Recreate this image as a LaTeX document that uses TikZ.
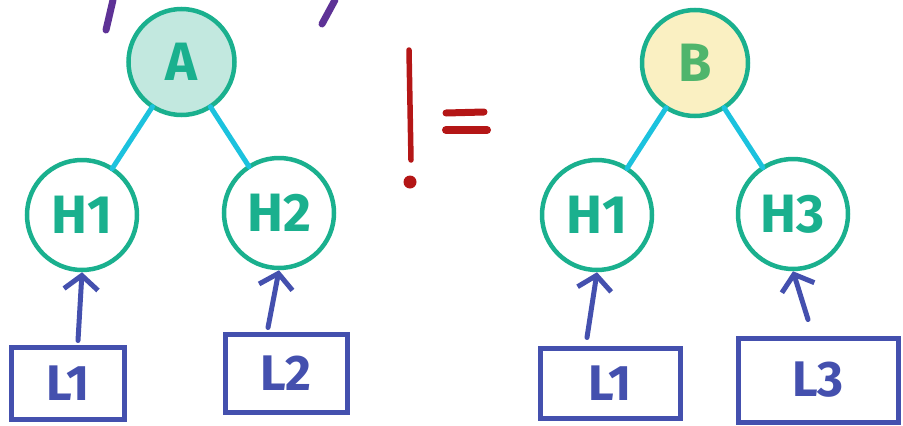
\documentclass[tikz,border=0pt]{standalone}
\usepackage{fontspec}
\setmainfont{Fira Sans}
\usetikzlibrary{arrows.meta}
\definecolor{teal}{HTML}{1AB08E}
\definecolor{tealfill}{HTML}{C2E8DF}
\definecolor{bgreen}{HTML}{4FB56C}
\definecolor{yellowfill}{HTML}{FAF0C2}
\definecolor{cyanline}{HTML}{1CC2DE}
\definecolor{navy}{HTML}{4450AE}
\definecolor{redink}{HTML}{B41616}
\definecolor{purpleink}{HTML}{5E3296}
\tikzset{
  hnode/.style={circle, draw=teal, line width=4.5pt, minimum size=110pt, inner sep=0pt,
    text=teal, font=\fontsize{54}{58}\selectfont\bfseries},
  rootA/.style={hnode, fill=tealfill, minimum size=106pt},
  rootB/.style={hnode, draw=teal, fill=yellowfill, text=bgreen, minimum size=106pt},
  lbox/.style={rectangle, draw=navy, line width=5pt, text=navy, inner sep=0pt,
    font=\fontsize{50}{54}\selectfont\bfseries},
  tree/.style={cyanline, line width=5pt, line cap=round, shorten <=-2pt, shorten >=-2pt},
  up/.style={navy, line width=5pt, line cap=round,
    -{Straight Barb[length=14pt,width=34pt,line width=5pt]}},
  redstroke/.style={redink, line width=5.5pt, line cap=round},
  purplestroke/.style={purpleink, line width=7pt, line cap=round}
}
\begin{document}
\begin{tikzpicture}[x=1pt,y=-1pt]
\useasboundingbox (0,0) rectangle (903,426);
% roots
\node[rootA] (A) at (181.5,62) {A};
\node[rootB] (B) at (695,63) {B};
% hidden nodes
\node[hnode] (H1a) at (82,215) {H1};
\node[hnode] (H2) at (279,213) {H2};
\node[hnode] (H1b) at (597,215) {H1};
\node[hnode] (H3) at (793,214) {H3};
% label boxes
\node[lbox, minimum width=113pt, minimum height=72pt] (L1a) at (68,383) {L1};
\node[lbox, minimum width=122pt, minimum height=78pt] (L2) at (286,373) {L2};
\node[lbox, minimum width=140pt, minimum height=70pt] (L1b) at (610,383) {L1};
\node[lbox, minimum width=160pt, minimum height=84pt] (L3) at (818,380) {L3};
% tree edges
\draw[tree] (A) -- (H1a);
\draw[tree] (A) -- (H2);
\draw[tree] (B) -- (H1b);
\draw[tree] (B) -- (H3);
% arrows
\draw[up] (L1a.north) ++(10,-4) coordinate (s1) (s1) -- (H1a.south);
\draw[up] (L2.north) ++(-18,-4) coordinate (s2) (s2) -- (H2.south);
\draw[up] (L1b.north) ++(-23,-8) coordinate (s3) (s3) -- (H1b.south);
\draw[up] (L3.north) ++(-10,-16) coordinate (s4) (s4) -- (H3.south);
% not equal sign
\coordinate (bt) at (409,50);
\coordinate (bb) at (411,160);
\draw[redstroke] (bt) -- (bb);
\fill[redink] (410,182) circle (6.5pt);
\coordinate (e1a) at (446,113);
\coordinate (e1b) at (484,112);
\coordinate (e2a) at (446,130);
\coordinate (e2b) at (487,130);
\draw[redstroke, line width=7pt] (e1a) -- (e1b);
\draw[redstroke, line width=8pt] (e2a) -- (e2b);
% purple strokes at top
\coordinate (p1a) at (113,0);
\coordinate (p1b) at (106,30);
\draw[purplestroke] (p1a) -- (p1b);
\coordinate (p2a) at (335,0);
\coordinate (p2b) at (322,24);
\draw[purplestroke] (p2a) -- (p2b);
\end{tikzpicture}
\end{document}
